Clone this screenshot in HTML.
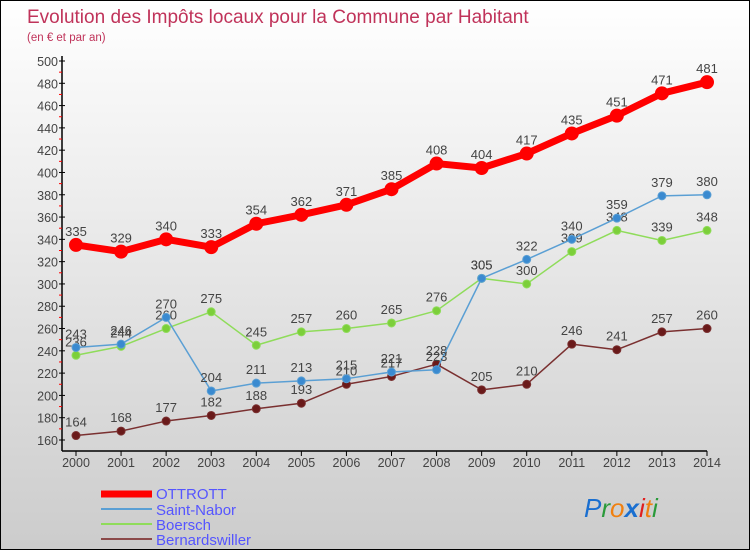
<!DOCTYPE html>
<html><head><meta charset="utf-8"><style>
body{margin:0;}
#c{width:750px;height:550px;position:relative;box-sizing:border-box;border:1px solid #000;background:linear-gradient(#fff,#ccc);font-family:"Liberation Sans",sans-serif;overflow:hidden}
svg{position:absolute;left:0;top:0}
</style></head><body>
<div id="c">
<svg id="s" width="750" height="550">
<text x="26" y="22" font-size="19" fill="#c0335a">Evolution des Impôts locaux pour la Commune par Habitant</text>
<text x="26" y="40" font-size="11.5" fill="#c0335a">(en € et par an)</text>
<g id="ax"></g><g id="ser"></g>
<g font-size="15" fill="#5555ff">
<line x1="100" y1="493" x2="151" y2="493" stroke="#f00" stroke-width="7"/>
<text x="155" y="498">OTTROTT</text>
<line x1="100" y1="508" x2="151" y2="508" stroke="#5a9fd4" stroke-width="2"/>
<text x="155" y="514">Saint-Nabor</text>
<line x1="100" y1="523" x2="151" y2="523" stroke="#8fdc5a" stroke-width="2"/>
<text x="155" y="529">Boersch</text>
<line x1="100" y1="538" x2="151" y2="538" stroke="#8b4a4a" stroke-width="2"/>
<text x="155" y="544">Bernardswiller</text>
</g>
<text x="583" y="516" font-size="26" font-style="italic"><tspan fill="#1a6fd0">P</tspan><tspan fill="#2a9a3a">r</tspan><tspan fill="#f08010">o</tspan><tspan fill="#1a6fd0" font-weight="bold">x</tspan><tspan fill="#e02020">i</tspan><tspan fill="#f08010">t</tspan><tspan fill="#2a9a3a">i</tspan></text>
</svg></div>
<script>
const years=[2000,2001,2002,2003,2004,2005,2006,2007,2008,2009,2010,2011,2012,2013,2014];
const ottrott=[335,329,340,333,354,362,371,385,408,404,417,435,451,471,481];
const saintNabor=[243,246,270,204,211,213,215,221,223,305,322,340,359,379,380];
const boersch=[236,244,260,275,245,257,260,265,276,305,300,329,348,339,348];
const bernardswiller=[164,168,177,182,188,193,210,217,228,205,210,246,241,257,260];
const yTicks=[160,180,200,220,240,260,280,300,320,340,360,380,400,420,440,460,480,500];
const NS='http://www.w3.org/2000/svg';
const X=i=>75+i*(706-75)/14;
const Y=v=>439-(v-160)*(439-60)/340;
function el(t,a,p){const e=document.createElementNS(NS,t);for(const k in a)e.setAttribute(k,a[k]);p.appendChild(e);return e;}
const ax=document.getElementById('ax');
let e=el('line',{x1:61,y1:55,x2:61,y2:450,stroke:'#000','stroke-width':1.5},ax);


e=el('line',{x1:61,y1:450,x2:706,y2:450,stroke:'#000','stroke-width':1.5},ax);


yTicks.forEach((v,i)=>{
 el('line',{x1:58,y1:Y(v),x2:64,y2:Y(v),stroke:'#000'},ax);
 if(i<yTicks.length-1) el('line',{x1:58,y1:Y(v+10),x2:61,y2:Y(v+10),stroke:'#f00'},ax);
 const t=el('text',{x:57,y:Y(v)+5,'text-anchor':'end','font-size':12.5,fill:'#444'},ax);
 
 
 t.textContent=v;
});
years.forEach((y,i)=>{
 el('line',{x1:X(i),y1:450,x2:X(i),y2:455,stroke:'#000'},ax);
 const t=el('text',{x:X(i),y:466,'text-anchor':'middle','font-size':12.5,fill:'#444'},ax);
 
 
 t.textContent=y;
});
const ser=document.getElementById('ser');
function draw(name,data,color,w,r,fill){
 const g=el('g',{},ser);
 
 
 const p=el('polyline',{points:data.map((v,i)=>X(i)+','+Y(v)).join(' '),fill:'none',stroke:color,'stroke-width':w,'stroke-linejoin':'round'},g);
 
 
 data.forEach((v,i)=>{
  const c=el('circle',{cx:X(i),cy:Y(v),r:r,fill:fill,stroke:color,'stroke-width':1},g);
  
  
  const t=el('text',{x:X(i),y:Y(v)-9,'text-anchor':'middle','font-size':13,fill:'#444'},g);
  
  
  t.textContent=v;
 });
}
draw('bernardswiller',bernardswiller,'#7a3030',1.5,4,'#6a1a1a');
draw('boersch',boersch,'#8fdc5a',1.5,4,'#7ccf3a');
draw('saint-nabor',saintNabor,'#5a9fd4',1.5,4,'#3a8ad0');
draw('ottrott',ottrott,'#f00',7,6.5,'#f00');
</script>
</body></html>
